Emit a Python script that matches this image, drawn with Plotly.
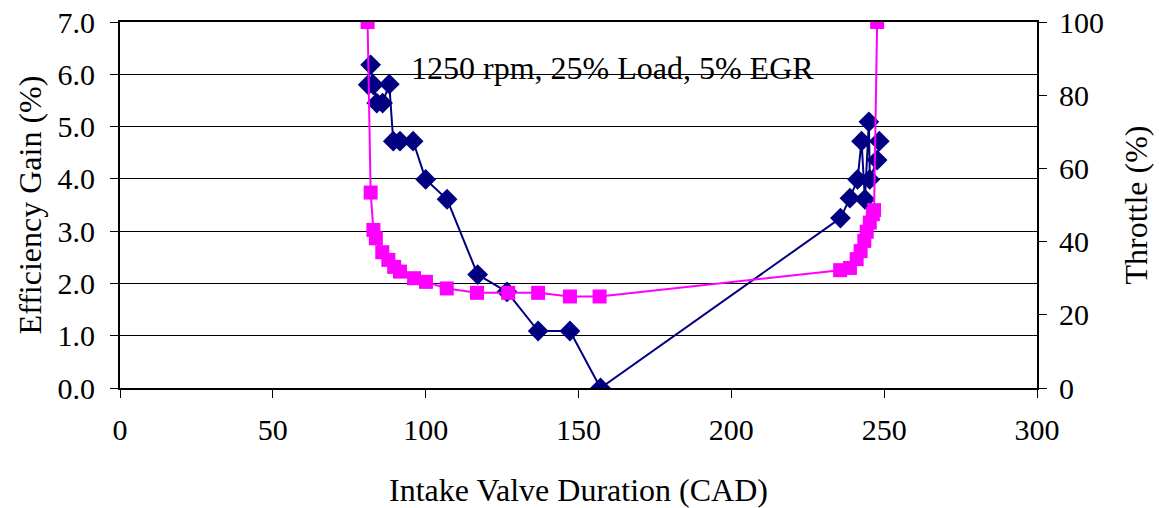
import plotly.graph_objects as go

# Efficiency gain (left axis)
eff_x = [81.2, 82.0, 82.9, 84.0, 85.9, 88.1, 89.4, 91.6, 95.9, 100.0, 107.0, 117.0, 126.6, 136.8, 147.2, 157.2,
         235.7, 238.8, 241.3, 242.6, 243.7, 245.0, 245.3, 247.7, 248.4]
eff_y = [5.80, 6.18, 5.80, 5.45, 5.45, 5.81, 4.72, 4.72, 4.72, 3.99, 3.61, 2.17, 1.84, 1.09, 1.09, 0.0,
         3.25, 3.63, 3.99, 4.72, 3.61, 5.09, 3.99, 4.36, 4.72]

# Throttle (right axis)
thr_x = [81.0, 82.0, 82.9, 83.7, 85.8, 87.8, 89.7, 91.6, 96.2, 100.1, 106.9, 116.8, 127.0, 136.8, 147.2, 156.9,
         235.6, 238.8, 241.0, 242.3, 243.5, 244.3, 245.3, 246.3, 246.7, 247.7]
thr_y = [100, 53.4, 43.2, 40.9, 37.1, 35.0, 33.1, 31.8, 30.0, 29.0, 27.2, 26.0, 26.0, 26.0, 25.0, 25.0,
         32.2, 32.8, 35.2, 37.4, 40.2, 42.7, 45.2, 47.5, 48.6, 100]

x_ticks = [0, 50, 100, 150, 200, 250, 300]
y_ticks = [0, 1, 2, 3, 4, 5, 6, 7]
y2_ticks = [0, 20, 40, 60, 80, 100]

FONT = "Liberation Serif, Times New Roman, serif"
TICK = 30
TITLE = 32

fig = go.Figure()
fig.add_trace(go.Scatter(
    x=eff_x, y=eff_y, mode="lines+markers", name="Efficiency Gain",
    line=dict(color="#000080", width=2),
    marker=dict(symbol="diamond", size=16, color="#000080"),
    yaxis="y"))
fig.add_trace(go.Scatter(
    x=thr_x, y=thr_y, mode="lines+markers", name="Throttle",
    line=dict(color="#FF00FF", width=2),
    marker=dict(symbol="square", size=14, color="#FF00FF"),
    yaxis="y2"))

fig.update_layout(
    width=1159, height=508,
    margin=dict(l=120, r=122, t=22, b=120),
    paper_bgcolor="white", plot_bgcolor="white",
    showlegend=False,
    font=dict(family=FONT, size=TICK, color="black"),
    xaxis=dict(range=[0, 300], tickvals=x_ticks, ticktext=[str(v) for v in x_ticks],
               automargin=False, ticklabelstandoff=6, ticklabeloverflow="allow",
               showgrid=False, zeroline=False, showline=True, linecolor="black", linewidth=2,
               mirror=True, ticks="outside", ticklen=8, tickcolor="black",
               title=dict(text="Intake Valve Duration (CAD)", font=dict(size=TITLE), standoff=34)),
    yaxis=dict(range=[0, 7], tickvals=y_ticks, ticktext=[f"{v:.1f}" for v in y_ticks],
               automargin=False, ticklabelstandoff=9, ticklabeloverflow="allow",
               showgrid=True, gridcolor="black", gridwidth=1, zeroline=False,
               showline=True, linecolor="black", linewidth=2, mirror=True,
               ticks="outside", ticklen=8, tickcolor="black",
               title=dict(text="Efficiency Gain (%)", font=dict(size=TITLE), standoff=6)),
    yaxis2=dict(range=[0, 100], tickvals=y2_ticks, ticktext=[str(v) for v in y2_ticks],
                automargin=False, ticklabelstandoff=6, ticklabeloverflow="allow",
                overlaying="y", side="right", showgrid=False, zeroline=False,
                showline=True, linecolor="black", linewidth=2,
                ticks="outside", ticklen=8, tickcolor="black",
                title=dict(text="Throttle (%)", font=dict(size=TITLE), standoff=22)),
    annotations=[dict(text="1250 rpm, 25% Load, 5% EGR", xref="paper", yref="paper",
                      x=0.5376, y=0.929, showarrow=False, font=dict(size=TITLE))],
)

fig.write_html("out.html", config={"displayModeBar": False},
               post_script="document.body.style.margin='0';")
